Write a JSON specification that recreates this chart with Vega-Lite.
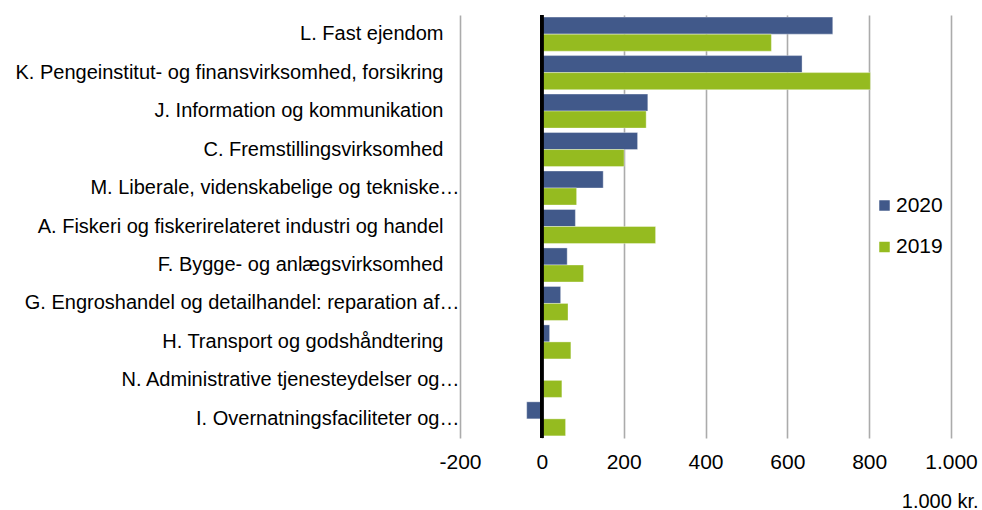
{
  "$schema": "https://vega.github.io/schema/vega-lite/v6.json",
  "autosize": {"type": "none"},
  "width": 491,
  "height": 423,
  "padding": {"left": 460, "top": 15, "right": 31, "bottom": 72},
  "background": "white",
  "config": {
    "font": "Liberation Sans",
    "view": {"stroke": null}
  },
  "data": {
    "values": [
      {"cat": "L. Fast ejendom", "year": "2020", "value": 711},
      {"cat": "L. Fast ejendom", "year": "2019", "value": 561},
      {"cat": "K. Pengeinstitut- og finansvirksomhed, forsikring", "year": "2020", "value": 636},
      {"cat": "K. Pengeinstitut- og finansvirksomhed, forsikring", "year": "2019", "value": 803},
      {"cat": "J. Information og kommunikation", "year": "2020", "value": 259},
      {"cat": "J. Information og kommunikation", "year": "2019", "value": 255},
      {"cat": "C. Fremstillingsvirksomhed", "year": "2020", "value": 234},
      {"cat": "C. Fremstillingsvirksomhed", "year": "2019", "value": 201},
      {"cat": "M. Liberale, videnskabelige og tekniske…", "year": "2020", "value": 150},
      {"cat": "M. Liberale, videnskabelige og tekniske…", "year": "2019", "value": 85},
      {"cat": "A. Fiskeri og fiskerirelateret industri og handel", "year": "2020", "value": 82},
      {"cat": "A. Fiskeri og fiskerirelateret industri og handel", "year": "2019", "value": 278},
      {"cat": "F. Bygge- og anlægsvirksomhed", "year": "2020", "value": 62},
      {"cat": "F. Bygge- og anlægsvirksomhed", "year": "2019", "value": 102},
      {"cat": "G. Engroshandel og detailhandel: reparation af…", "year": "2020", "value": 46},
      {"cat": "G. Engroshandel og detailhandel: reparation af…", "year": "2019", "value": 64},
      {"cat": "H. Transport og godshåndtering", "year": "2020", "value": 19},
      {"cat": "H. Transport og godshåndtering", "year": "2019", "value": 71},
      {"cat": "N. Administrative tjenesteydelser og…", "year": "2020", "value": 0},
      {"cat": "N. Administrative tjenesteydelser og…", "year": "2019", "value": 49},
      {"cat": "I. Overnatningsfaciliteter og…", "year": "2020", "value": -37},
      {"cat": "I. Overnatningsfaciliteter og…", "year": "2019", "value": 58}
    ]
  },
  "layer": [
    {
      "mark": {"type": "bar", "stroke": "#ffffff", "strokeWidth": 0.6, "strokeOpacity": 0.6},
      "encoding": {
        "y": {
          "field": "cat",
          "type": "nominal",
          "sort": null,
          "scale": {"paddingInner": 0.115, "paddingOuter": 0.055},
          "axis": {
            "title": null,
            "domain": false,
            "ticks": false,
            "labelFontSize": 20,
            "labelColor": "#000000",
            "labelPadding": {"condition": {"test": "indexof(datum.value, '…') >= 0", "value": 1}, "value": 17},
            "labelLimit": 600
          }
        },
        "yOffset": {
          "field": "year",
          "type": "nominal",
          "scale": {"domain": ["2020", "2019"], "paddingInner": 0, "paddingOuter": 0}
        },
        "x": {
          "field": "value",
          "type": "quantitative",
          "scale": {"domain": [-200, 1000], "nice": false, "zero": false},
          "axis": {
            "values": [-200, 0, 200, 400, 600, 800, 1000],
            "labelExpr": "datum.value == 1000 ? '1.000' : (datum.value < 0 ? '-' + abs(datum.value) : '' + datum.value)",
            "labelFlush": false,
            "labelOverlap": false,
            "labelBound": false,
            "domain": false,
            "ticks": false,
            "grid": true,
            "gridColor": "#ababab",
            "gridWidth": 1.6,
            "labelFontSize": 21,
            "labelColor": "#000000",
            "labelPadding": 13,
            "title": "1.000 kr.",
            "titleFontSize": 20,
            "titleFontWeight": "normal",
            "titleColor": "#000000",
            "titleAnchor": "end",
            "titleAlign": "right",
            "titleX": 518,
            "titleY": 69,
            "titleBaseline": "alphabetic"
          }
        },
        "color": {
          "field": "year",
          "type": "nominal",
          "scale": {"domain": ["2020", "2019"], "range": ["#41598A", "#95BB20"]},
          "legend": {
            "title": null,
            "orient": "none",
            "legendX": 414,
            "legendY": 180,
            "padding": 0,
            "symbolType": "square",
            "symbolSize": 110,
            "symbolStrokeWidth": 0,
            "labelFontSize": 21,
            "labelColor": "#000000",
            "rowPadding": 19.5,
            "labelOffset": 1
          }
        }
      }
    },
    {
      "mark": {"type": "rule", "color": "#000000", "strokeWidth": 2.5},
      "encoding": {"x": {"datum": 0, "type": "quantitative"}}
    }
  ]
}
